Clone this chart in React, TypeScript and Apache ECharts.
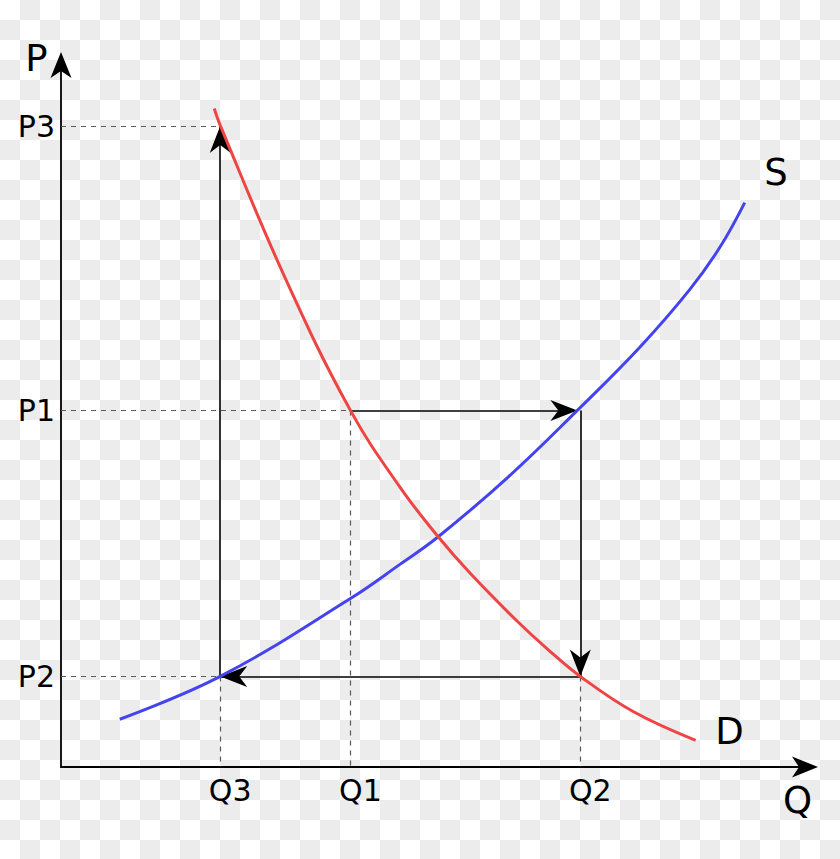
import React, { useEffect, useRef } from 'react';
import * as echarts from 'echarts';

// Axis tick labels and their positions (arbitrary units 0..100)
const qLabels = ['Q3', 'Q1', 'Q2'];
const qValues = [21.4, 38.9, 69.8];
const pLabels = ['P2', 'P1', 'P3'];
const pValues = [12.9, 50.8, 91.3];

// Supply curve (S)
const supplyQ = [7.9, 21.4, 38.9, 45.6, 50.7, 60.1, 69.4, 77.8, 84.5, 88.6, 91.9];
const supplyP = [6.8, 12.9, 24.0, 28.9, 32.8, 41.3, 50.8, 59.8, 68.0, 74.1, 80.4];

// Demand curve (D)
const demandQ = [20.6, 21.4, 30.2, 38.9, 45.6, 50.7, 55.0, 61.3, 65.5, 69.8, 76.9, 85.3];
const demandP = [93.8, 91.4, 69.5, 50.8, 39.8, 32.8, 27.6, 20.8, 16.7, 12.9, 7.9, 3.8];

// Where the P1 arrow meets the supply curve
const supplyAtP1 = 69.4;

const FONT = 'DejaVu Sans';
const AXIS_ARROW = 'path://M10.5,0 L21,26 L10.5,19 L0,26 Z';
// tip placed at the centre of the symbol box so that it ends exactly on the point
const TIP_ARROW = 'path://M10.5,0 M10.5,27 L21,54 L10.5,46 L0,54 Z';

export default function App() {
  const ref = useRef<HTMLDivElement>(null);

  useEffect(() => {
    if (!ref.current) return;
    const chart = echarts.init(ref.current, undefined, { renderer: 'svg' });

    const [Q3, Q1, Q2] = qValues;
    const [P2, P1, P3] = pValues;

    const arrowSegments = [
      [[Q1, P1], [supplyAtP1, P1]],
      [[Q2, P1], [Q2, P2]],
      [[Q2, P2], [Q3, P2]],
      [[Q3, P2], [Q3, P3]],
    ];
    const dashedSegments = [
      [[0, P3], [Q3, P3]],
      [[0, P1], [Q1, P1]],
      [[0, P2], [Q3, P2]],
      [[Q3, P2], [Q3, 0]],
      [[Q1, P1], [Q1, 0]],
      [[Q2, P2], [Q2, 0]],
    ];

    const labelFor = (vals: number[], names: string[]) => (v: number) => {
      const i = vals.findIndex((x) => Math.abs(x - v) < 1e-6);
      return i >= 0 ? names[i] : '';
    };

    chart.setOption({
      animation: false,
      backgroundColor: 'transparent',
      textStyle: { fontFamily: FONT },
      grid: { left: 61, top: 65, right: 35, bottom: 92, containLabel: false, outerBoundsMode: 'none' },
      xAxis: {
        type: 'value',
        min: 0,
        max: 100,
        axisLine: {
          show: true,
          onZero: false,
          symbol: ['none', AXIS_ARROW],
          symbolSize: [21, 26],
          lineStyle: { color: '#000', width: 1.8 },
        },
        axisTick: { show: false },
        splitLine: { show: false },
        axisLabel: {
          customValues: qValues,
          formatter: labelFor(qValues, qLabels),
          color: '#000',
          fontSize: 30,
          fontFamily: FONT,
          margin: 8,
          padding: [0, 0, 0, 20],
        },
      },
      yAxis: {
        type: 'value',
        min: 0,
        max: 100,
        axisLine: {
          show: true,
          onZero: false,
          symbol: ['none', AXIS_ARROW],
          symbolSize: [21, 26],
          lineStyle: { color: '#000', width: 1.8 },
        },
        axisTick: { show: false },
        splitLine: { show: false },
        axisLabel: {
          customValues: pValues,
          formatter: labelFor(pValues, pLabels),
          color: '#000',
          fontSize: 30,
          fontFamily: FONT,
          margin: 6,
        },
      },
      series: [
        {
          type: 'lines',
          coordinateSystem: 'cartesian2d',
          silent: true,
          symbol: ['none', 'none'],
          lineStyle: { color: '#5a5a5a', width: 1.2, type: [5, 5], opacity: 1 },
          data: dashedSegments.map((c) => ({ coords: c })),
          z: 2,
        },
        {
          type: 'lines',
          coordinateSystem: 'cartesian2d',
          silent: true,
          symbol: ['none', TIP_ARROW],
          symbolSize: [0, [21, 54]],
          lineStyle: { color: '#000', width: 1.6, opacity: 1 },
          data: arrowSegments.map((c) => ({ coords: c })),
          z: 3,
        },
        {
          type: 'line',
          name: 'S',
          data: supplyQ.map((q, i) => [q, supplyP[i]]),
          smooth: 0.4,
          showSymbol: false,
          symbol: 'none',
          lineStyle: { color: '#4444ee', width: 3 },
          z: 4,
        },
        {
          type: 'line',
          name: 'D',
          data: demandQ.map((q, i) => [q, demandP[i]]),
          smooth: 0.4,
          showSymbol: false,
          symbol: 'none',
          lineStyle: { color: '#ef4444', width: 3 },
          z: 4,
        },
      ],
      graphic: [
        { type: 'text', x: 36.5, y: 58.5, style: { text: 'P', fontSize: 37, fontFamily: FONT, fill: '#000', align: 'center', verticalAlign: 'middle' } },
        { type: 'text', x: 797.5, y: 800, style: { text: 'Q', fontSize: 37, fontFamily: FONT, fill: '#000', align: 'center', verticalAlign: 'middle' } },
        { type: 'text', x: 776, y: 172, style: { text: 'S', fontSize: 37, fontFamily: FONT, fill: '#000', align: 'center', verticalAlign: 'middle' } },
        { type: 'text', x: 729.5, y: 731, style: { text: 'D', fontSize: 37, fontFamily: FONT, fill: '#000', align: 'center', verticalAlign: 'middle' } },
      ],
    });

    return () => chart.dispose();
  }, []);

  return (
    <div
      ref={ref}
      style={{
        position: 'absolute',
        left: 0,
        top: 0,
        width: 840,
        height: 859,
        backgroundColor: '#ffffff',
        backgroundImage: 'repeating-conic-gradient(#ececec 0% 25%, #ffffff 0% 50%)',
        backgroundSize: '40px 40px',
        backgroundPosition: '0 0',
      }}
    />
  );
}
